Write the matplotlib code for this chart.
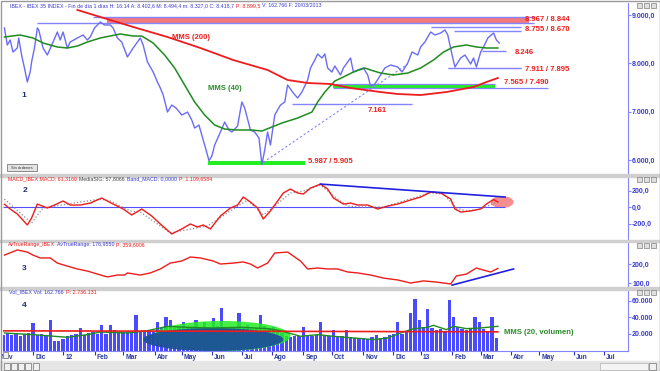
import matplotlib
matplotlib.use("Agg")
import matplotlib.pyplot as plt
from matplotlib.patches import Ellipse, Rectangle

plt.rcParams['font.family'] = ['Liberation Sans', 'DejaVu Sans']

# values, x = trading day counted from early Nov 2011
price_day = [1, 3, 5, 7, 10, 11, 13, 15, 17, 19, 20, 22, 24, 25, 28, 31, 35, 38, 40, 42,
             45, 47, 52, 56, 59, 61, 64, 68, 71, 75, 77, 80, 83, 87, 91, 96, 98, 101, 105, 108,
             110, 112, 115, 118, 121, 125, 129, 132, 134, 137, 139, 142, 144, 146, 148, 152, 155, 158, 160, 164,
             167, 169, 173, 176, 179, 181, 183, 185, 187, 190, 194, 197, 199, 203, 206, 209, 213, 215, 218, 220,
             223, 225, 227, 230, 232, 236, 238, 241, 243, 245, 248, 252, 255, 257, 260, 264, 267, 271, 276, 279,
             283, 286, 290, 292, 295, 299, 302, 306, 309, 311, 314, 316, 320, 323, 327, 329, 331, 334, 336, 339,
             343, 345, 347]
price_val = [8731, 8379, 8482, 8234, 8317, 8524, 8172, 7903, 7613, 7820, 8027, 8317, 8731, 8690, 8317, 8172, 8441, 8648, 8482, 8648,
             8317, 8441, 8524, 8586, 8482, 8545, 8731, 8855, 8793, 8793, 8731, 8524, 8441, 8131, 8317, 8524, 8379, 8027, 7820, 7613,
             7489, 7344, 6992, 7137, 7075, 6930, 6992, 6826, 6661, 6723, 6516, 6205, 5987, 6081, 6309, 6578, 6785, 6620, 6578, 6702,
             7199, 7075, 6620, 6578, 6454, 5905, 6206, 6578, 6309, 6930, 7137, 7199, 7551, 7385, 7282, 7406, 7655, 7903, 8068, 8193,
             8110, 8193, 7903, 7820, 7944, 7758, 7903, 8027, 8110, 7820, 7862, 7903, 7758, 7530, 7572, 7758, 7903, 7965, 7924, 7820,
             8006, 8234, 8172, 8338, 8441, 8648, 8586, 8627, 8690, 8586, 8172, 7924, 8110, 8172, 7986, 8110, 7924, 8234, 8338, 8524,
             8627, 8482, 8419]

mms40_day = [1, 12, 21, 28, 38, 45, 52, 59, 68, 75, 82, 91, 97, 105, 113, 120, 127, 134, 141, 148, 155, 164, 174,
             181, 188, 195, 206, 216, 220, 225, 232, 238, 245, 253, 257, 264, 273, 283, 292, 301, 308, 315, 324, 331, 338, 346]
mms40_val = [8545, 8586, 8524, 8420, 8338, 8317, 8358, 8441, 8524, 8565, 8607, 8565, 8565, 8420, 8172, 7903, 7551, 7199, 6930, 6723, 6640, 6620, 6620,
             6599, 6682, 6764, 6868, 6992, 7199, 7406, 7634, 7717, 7820, 7903, 7862, 7799, 7758, 7799, 7903, 8068, 8234, 8338, 8379, 8338, 8317, 8317]

mms200_day = [52, 68, 91, 115, 138, 161, 185, 199, 213, 229, 243, 264, 276, 292, 310, 329, 338, 346]
mms200_val = [9104, 8959, 8752, 8545, 8317, 8068, 7862, 7655, 7593, 7572, 7489, 7406, 7365, 7344, 7406, 7510, 7613, 7696]

macd_day = [1, 5, 10, 17, 20, 24, 31, 36, 42, 47, 54, 61, 69, 77, 84, 90, 97, 104, 110, 118,
            125, 131, 136, 140, 145, 152, 159, 164, 168, 173, 178, 182, 187, 192, 196, 201, 206, 210, 215, 222,
            227, 231, 238, 243, 248, 255, 262, 269, 276, 285, 292, 299, 306, 313, 316, 320, 327, 334, 338, 343, 346]
macd_val = [33, -24, -85, -218, -133, 36, -12, 24, 73, 24, 24, 48, 109, 36, -24, -97, -24, -109, -206, -327,
            -266, -206, -242, -218, -266, -109, -12, 24, 121, 60, -12, -145, -48, 73, 170, 218, 170, 157, 230, 278,
            218, 109, 36, 48, 24, 24, -24, 12, 36, 85, 121, 182, 170, 97, -24, -61, -48, -24, 36, 90, 61]
signal_day = [1, 20, 28, 45, 68, 75, 89, 96, 117, 124, 143, 161, 171, 182, 190, 201, 210, 222, 234, 241,
              252, 266, 280, 299, 308, 317, 324, 334, 345]
signal_val = [97, -194, -12, 36, 97, 73, -48, -61, -315, -290, -230, -24, 85, -97, 12, 170, 194, 266, 97, 12,
              0, 0, 73, 170, 157, -12, -48, -24, 58]

atr_day = [1, 10, 17, 21, 26, 33, 38, 45, 52, 59, 66, 73, 80, 85, 87, 96, 103, 110, 117, 125,
           131, 138, 147, 152, 161, 168, 173, 178, 185, 190, 199, 203, 208, 213, 220, 227, 234, 241, 248, 257,
           266, 276, 285, 294, 303, 313, 317, 324, 331, 336, 341, 346]
atr_val = [247, 274, 263, 247, 232, 232, 205, 189, 174, 163, 147, 132, 142, 142, 153, 142, 153, 174, 205, 216,
           237, 232, 216, 200, 205, 211, 200, 179, 205, 258, 263, 242, 216, 174, 179, 174, 174, 158, 153, 142,
           126, 116, 100, 111, 105, 95, 137, 147, 179, 168, 158, 177]

# volume, one value per three sessions (thousands)
vol_k = [19, 21, 19, 20, 18, 20, 21, 33, 19, 20, 18, 37, 11, 12, 14, 18, 19, 20, 27, 19,
         21, 22, 20, 31, 20, 31, 25, 21, 22, 23, 21, 43, 23, 22, 24, 23, 35, 27, 40, 37,
         27, 28, 35, 27, 29, 37, 27, 35, 29, 39, 30, 51, 28, 27, 29, 45, 27, 31, 26, 27,
         43, 30, 27, 28, 25, 21, 17, 16, 18, 17, 29, 18, 17, 19, 35, 19, 18, 25, 18, 17,
         25, 16, 15, 14, 15, 14, 16, 19, 15, 16, 19, 20, 35, 20, 22, 45, 63, 37, 28, 50,
         27, 25, 26, 24, 61, 41, 29, 26, 25, 27, 41, 35, 26, 24, 41, 15]
vol_day = list(range(0, 3 * len(vol_k), 3))
volma_day = [1, 21, 45, 59, 68, 87, 101, 115, 129, 147, 166, 185, 194, 208, 220, 231, 245, 259, 269, 278,
             287, 297, 301, 310, 315, 324, 334, 346]
volma_k = [21.2, 19.2, 16.0, 19.2, 22.4, 21.2, 24.0, 29.3, 28.1, 27.3, 28.1, 26.5, 24.0, 17.2, 19.2, 17.2, 15.2, 13.2, 15.2, 21.2,
           26.5, 28.1, 30.5, 25.3, 29.3, 26.5, 27.3, 29.3]
volred_day = [0, 100, 200, 300, 346]
volred_k = [23.8, 23.5, 23.2, 22.8, 22.6]

month_day = [-3, 21, 42, 64, 84, 106, 125, 146, 167, 188, 210, 230, 252, 273, 292, 314, 334, 355, 375, 399, 420]
month_lab = ["Nov", "Dic", "12", "Feb", "Mar", "Abr", "May", "Jun", "Jul", "Ago", "Sep",
             "Oct", "Nov", "Dic", "13", "Feb", "Mar", "Abr", "May", "Jun", "Jul"]

BLUE = '#6b6bf5'
LINE = '#8484ff'
RED = '#ee1c1c'
GREEN = '#2a8a2a'
W, H = 660, 371

fig = plt.figure(figsize=(W / 100, H / 100), dpi=100, facecolor='white')


def box(x0, y0, x1, y1):
    return [x0 / W, 1 - y1 / H, (x1 - x0) / W, (y1 - y0) / H]


def prect(x0, y0, x1, y1, **kw):
    fig.patches.append(Rectangle((x0 / W, 1 - y1 / H), (x1 - x0) / W, (y1 - y0) / H,
                                 transform=fig.transFigure, **kw))


def header(x, y, parts, size=3.6):
    r = fig.canvas.get_renderer()
    for s, c in parts:
        t = fig.text(x / W, 1 - y / H, s, color=c, fontsize=size, va='center', ha='left')
        x = t.get_window_extent(r).x1 + 2


def num_fmt(v, dec=1):
    s = f"{v:,.{dec}f}"
    return s.replace(',', '#').replace('.', ',').replace('#', '.')


def panel(rect, ylim, ticks, labels):
    ax = fig.add_axes(box(*rect))
    ax.set_xlim(0, 437)
    ax.set_ylim(*ylim)
    for s in ('left', 'top', 'bottom'):
        ax.spines[s].set_visible(False)
    ax.spines['right'].set_color(LINE)
    ax.yaxis.tick_right()
    ax.set_yticks(ticks, labels=labels, fontsize=5, fontweight='bold', color='#3a3ad0')
    ax.tick_params(axis='y', length=2, width=0.8, colors=LINE, pad=1)
    ax.tick_params(axis='y', labelcolor='#3a3ad0')
    ax.set_xticks([])
    return ax


# frame, separators and bottom bar
prect(0, 174, W, 177, color='#cfcfcf', zorder=0)
prect(0, 239.5, W, 242, color='#cfcfcf', zorder=0)
prect(0, 287, W, 289.5, color='#cfcfcf', zorder=0)
prect(0, 361, W, H, color='#e6e6e6', zorder=0)
prect(0.5, 0.5, W - 0.5, H - 0.5, fill=False, edgecolor='#9a9a9a', lw=1)

# ---------------- panel 1: price ----------------
ax1 = panel((3, 3, 628, 174), (5710, 9248), [6000, 7000, 8000, 9000],
            [num_fmt(v) for v in [6000, 7000, 8000, 9000]])
ax1.fill_between([73, 368], 8844, 8967, color='#f47a7a', lw=0, zorder=1)
ax1.hlines(8967, 63, 371, color=LINE, lw=1, zorder=1)
ax1.hlines(8844, 24, 371, color=LINE, lw=1, zorder=1)
ax1.hlines(8755, 299, 362, color=LINE, lw=1)
ax1.hlines(8670, 315, 362, color=LINE, lw=1)
ax1.hlines(8246, 335, 352, color=LINE, lw=1)
ax1.hlines([7911, 7895], 311, 362, color=LINE, lw=0.9)
ax1.fill_between([231, 344], 7490, 7565, color='#22ee22', lw=0, zorder=1)
ax1.hlines(7565, 231, 344, color=LINE, lw=0.9, zorder=1)
ax1.hlines(7490, 231, 381, color=LINE, lw=0.9, zorder=1)
ax1.hlines(7161, 202, 286, color=LINE, lw=1)
ax1.fill_between([143, 211], 5905, 5987, color='#22ee22', lw=0, zorder=1)
ax1.plot([182, 283], [5950, 7986], color=LINE, lw=0.8, ls=(0, (2, 2)))

ax1.plot(price_day, price_val, color=BLUE, lw=1.0, zorder=2)
ax1.plot(mms40_day, mms40_val, color='#1e8c1e', lw=1.1, zorder=3)
ax1.plot(mms200_day, mms200_val, color=RED, lw=1.3, zorder=3)

lab = dict(color=RED, fontsize=5.5, fontweight='bold', va='center', ha='left')
ax1.text(365, 8905, "8.967 / 8.844", **lab)
ax1.text(365, 8690, "8.755 / 8.670", **lab)
ax1.text(358, 8214, "8.246", **lab)
ax1.text(365, 7862, "7.911 / 7.895", **lab)
ax1.text(350, 7593, "7.565 / 7.490", **lab)
ax1.text(255, 7034, "7.161", **lab)
ax1.text(213, 5960, "5.987 / 5.905", **lab)
ax1.text(118, 8524, "MMS (200)", **lab)
ax1.text(143, 7489, "MMS (40)", color=GREEN, fontsize=5.5, fontweight='bold', va='center', ha='left')
ax1.text(13, 7330, "1", color='#1c2c6c', fontsize=6, fontweight='bold', va='center')
header(10, 5.5, [("IBEX - IBEX 35 INDEX - Fin de día 1 días H: 16:14 A: 8.402,6 M: 8.494,4 m: 8.327,0 C: 8.418,7", '#3a3ad0'),
                 ("P: 8.899,5", RED), ("V: 162.766 F: 20/03/2013", '#3a3ad0')], size=3.75)
prect(7, 164, 37, 171, facecolor='#e4e4e4', edgecolor='#7a7a7a', lw=0.6)
fig.text(22 / W, 1 - 167.5 / H, "Sin órdenes", fontsize=3, ha='center', va='center', color='#333333')

# ---------------- panel 2: MACD ----------------
ax2 = panel((3, 177, 628, 239), (-388, 364), [-200, 0, 200], [num_fmt(v) for v in [-200, 0, 200]])
ax2.hlines(0, 0, 351, color='#5050ff', lw=0.8)
ax2.plot(signal_day, signal_val, color='#8a8a8a', lw=0.9, ls=':')
ax2.plot(macd_day, macd_val, color=RED, lw=1.0)
ax2.plot([222, 351], [278, 121], color='#2020e0', lw=1.2)
ax2.add_patch(Ellipse((349, 60), 16, 145, color='#f47c7c', alpha=0.85, lw=0))
ax2.text(14, 200, "2", color='#1c2c6c', fontsize=6, fontweight='bold', va='center')
header(8, 178.5, [("MACD_IBEX MACD: 61,3160", RED), ("MediaSIG: 57,8066", '#444444'),
                  ("Band_MACD: 0,0000", '#3a3ad0'), ("P: 1.109,6584", RED)], size=3.8)

# ---------------- panel 3: ATR ----------------
ax3 = panel((3, 242, 628, 287), (79, 316), [100, 200], [num_fmt(v) for v in [100, 200]])
ax3.plot(atr_day, atr_val, color=RED, lw=1.0)
ax3.plot([314, 357], [89, 174], color='#2020e0', lw=1.2)
ax3.text(13, 174, "3", color='#1c2c6c', fontsize=6, fontweight='bold', va='center')
header(8, 244.5, [("AvTrueRange_IBEX", RED), ("AvTrueRange: 176,9550", '#3a3ad0'), ("P: 359,6006", RED)], size=3.75)

# ---------------- panel 4: volume ----------------
ax4 = panel((3, 290, 628, 351), (-600, 73300), [20000, 40000, 60000],
            [num_fmt(v, 0) for v in [20000, 40000, 60000]])
ax4.bar(vol_day, [v * 1000 for v in vol_k], width=2.3, color='#4a4aff', lw=0, zorder=2)
ax4.add_patch(Ellipse((153, 17600), 96, 36400, color='#22ee22', alpha=0.85, lw=0, zorder=3))
ax4.add_patch(Ellipse((147, 13300), 98, 27900, color='#1d5199', alpha=0.95, lw=0, zorder=4))
ax4.plot(volma_day, [v * 1000 for v in volma_k], color='#1e8c1e', lw=1.0, zorder=5)
ax4.plot(volred_day, [v * 1000 for v in volred_k], color=RED, lw=1.2, zorder=5)
ax4.text(13, 55000, "4", color='#1c2c6c', fontsize=6, fontweight='bold', va='center')
ax4.text(350, 21800, "MMS (20, volumen)", color=GREEN, fontsize=5.5, fontweight='bold', va='center', ha='left')
header(9, 292, [("Vol_IBEX Vol: 162.766", '#3a3ad0'), ("P: 2.736.131", RED)], size=3.9)

ax4.spines['bottom'].set_visible(True)
ax4.spines['bottom'].set_color(LINE)
ax4.set_xticks([d for d in month_day if d >= 0])
ax4.tick_params(axis='x', direction='out', length=3, width=0.8, color='#3030c0', labelbottom=False)
for d, m in zip(month_day, month_lab):
    ax4.text(d + 1.5, -0.1, m, transform=ax4.get_xaxis_transform(), fontsize=4.8, fontweight='bold',
             color='#2a3a9a', va='center', ha='left', clip_on=False)

# little window buttons and scroll bar
for yy in (3, 176.5, 242.5, 289.5):
    for xx in (637, 644, 651):
        prect(xx, yy, xx + 5, yy + 5, facecolor='#e0e0e0', edgecolor='#808080', lw=0.5)
for xx in (4, 11, 18, 25, 33):
    prect(xx, 362.5, xx + 6, 369.5, facecolor='#f0f0f0', edgecolor='#707070', lw=0.5)
prect(3, 352, 8, 358, facecolor='#f0f0f0', edgecolor='#707070', lw=0.5)
prect(600, 362.5, 648, 369.5, facecolor='#f4f4f4', edgecolor='#b0b0b0', lw=0.5)
prect(649, 362.5, 656, 369.5, facecolor='#f0f0f0', edgecolor='#707070', lw=0.5)

fig.savefig("out.png", dpi=100)
